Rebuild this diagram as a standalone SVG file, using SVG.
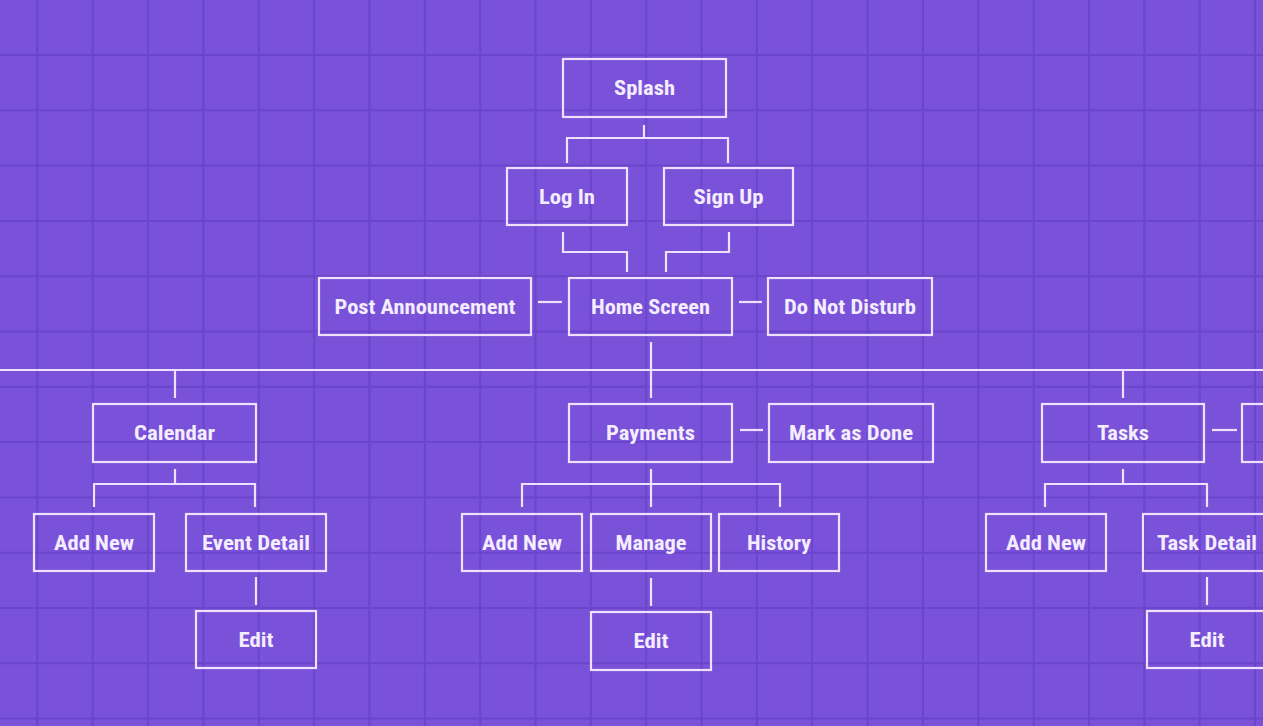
<svg xmlns="http://www.w3.org/2000/svg" width="1263" height="726" viewBox="0 0 1263 726">
<style>
.bg{fill:#7952d9}
.grid line{stroke:#6b45cb;stroke-width:2}
.node rect{fill:none;stroke:#eee0ff;stroke-width:2.2}
.node text{fill:#f4ecff;font-family:"Liberation Sans Narrow","Roboto Condensed",Roboto,"Liberation Sans",sans-serif;font-weight:bold;font-size:20.5px;text-anchor:middle}
.conn path{fill:none;stroke:#eee0ff;stroke-width:2.2}
</style>
<rect class="bg" x="0" y="0" width="1263" height="726"/>
<g class="grid">
<line x1="37.3" y1="0" x2="37.3" y2="726"/><line x1="92.7" y1="0" x2="92.7" y2="726"/><line x1="148" y1="0" x2="148" y2="726"/><line x1="203.4" y1="0" x2="203.4" y2="726"/><line x1="258.7" y1="0" x2="258.7" y2="726"/><line x1="314.1" y1="0" x2="314.1" y2="726"/><line x1="369.4" y1="0" x2="369.4" y2="726"/><line x1="424.8" y1="0" x2="424.8" y2="726"/><line x1="480.1" y1="0" x2="480.1" y2="726"/><line x1="535.5" y1="0" x2="535.5" y2="726"/><line x1="590.8" y1="0" x2="590.8" y2="726"/><line x1="646.2" y1="0" x2="646.2" y2="726"/><line x1="701.5" y1="0" x2="701.5" y2="726"/><line x1="756.9" y1="0" x2="756.9" y2="726"/><line x1="812.2" y1="0" x2="812.2" y2="726"/><line x1="867.6" y1="0" x2="867.6" y2="726"/><line x1="922.9" y1="0" x2="922.9" y2="726"/><line x1="978.3" y1="0" x2="978.3" y2="726"/><line x1="1033.6" y1="0" x2="1033.6" y2="726"/><line x1="1089" y1="0" x2="1089" y2="726"/><line x1="1144.3" y1="0" x2="1144.3" y2="726"/><line x1="1199.7" y1="0" x2="1199.7" y2="726"/><line x1="1255" y1="0" x2="1255" y2="726"/>
<line x1="0" y1="55" x2="1263" y2="55"/><line x1="0" y1="110.3" x2="1263" y2="110.3"/><line x1="0" y1="165.6" x2="1263" y2="165.6"/><line x1="0" y1="220.9" x2="1263" y2="220.9"/><line x1="0" y1="276.2" x2="1263" y2="276.2"/><line x1="0" y1="331.5" x2="1263" y2="331.5"/><line x1="0" y1="386.8" x2="1263" y2="386.8"/><line x1="0" y1="442.1" x2="1263" y2="442.1"/><line x1="0" y1="497.4" x2="1263" y2="497.4"/><line x1="0" y1="552.7" x2="1263" y2="552.7"/><line x1="0" y1="608" x2="1263" y2="608"/><line x1="0" y1="663.3" x2="1263" y2="663.3"/><line x1="0" y1="718.6" x2="1263" y2="718.6"/>
</g>
<g class="conn" id="connectors">
<path d="M644,125 V138"/><path d="M567,163 V138 H728 V163"/>
<path d="M563,232 V252 H627 V272"/>
<path d="M729,232 V252 H666 V272"/>
<path d="M538,302 H562"/><path d="M739,302 H762"/>
<path d="M651,342 V398"/><path d="M0,370 H1263"/>
<path d="M175,370 V398"/><path d="M1123,370 V398"/>
<path d="M175,469 V484"/><path d="M94,507 V484 H255 V507"/>
<path d="M651,469 V507"/><path d="M522,507 V484 H780 V507"/>
<path d="M1123,469 V484"/><path d="M1045,507 V484 H1207 V507"/>
<path d="M256,577 V605"/><path d="M651,578 V606"/><path d="M1207,577 V605"/>
<path d="M740,430 H763"/><path d="M1212,430 H1237"/>
</g>
<g class="node" id="splash"><rect x="563" y="59" width="163" height="58"/><text x="644.5" y="95" textLength="61" lengthAdjust="spacingAndGlyphs">Splash</text></g>
<g class="node" id="login"><rect x="507" y="168" width="120" height="57"/><text x="567" y="203.5" textLength="56" lengthAdjust="spacingAndGlyphs">Log In</text></g>
<g class="node" id="signup"><rect x="664" y="168" width="129" height="57"/><text x="728.5" y="203.5" textLength="70" lengthAdjust="spacingAndGlyphs">Sign Up</text></g>
<g class="node" id="post"><rect x="319" y="278" width="212" height="57"/><text x="425" y="313.5" textLength="181" lengthAdjust="spacingAndGlyphs">Post Announcement</text></g>
<g class="node" id="home"><rect x="569" y="278" width="163" height="57"/><text x="650.5" y="313.5" textLength="119" lengthAdjust="spacingAndGlyphs">Home Screen</text></g>
<g class="node" id="dnd"><rect x="768" y="278" width="164" height="57"/><text x="850" y="313.5" textLength="132" lengthAdjust="spacingAndGlyphs">Do Not Disturb</text></g>
<g class="node" id="calendar"><rect x="93" y="404" width="163" height="58"/><text x="174.5" y="440" textLength="81" lengthAdjust="spacingAndGlyphs">Calendar</text></g>
<g class="node" id="payments"><rect x="569" y="404" width="163" height="58"/><text x="650.5" y="440" textLength="89" lengthAdjust="spacingAndGlyphs">Payments</text></g>
<g class="node" id="markdone"><rect x="769" y="404" width="164" height="58"/><text x="851" y="440" textLength="124" lengthAdjust="spacingAndGlyphs">Mark as Done</text></g>
<g class="node" id="tasks"><rect x="1042" y="404" width="162" height="58"/><text x="1123" y="440" textLength="52" lengthAdjust="spacingAndGlyphs">Tasks</text></g>
<g class="node" id="tasks-side"><rect x="1242" y="404" width="100" height="58"/></g>
<g class="node" id="cal-addnew"><rect x="34" y="514" width="120" height="57"/><text x="94" y="549.5" textLength="80" lengthAdjust="spacingAndGlyphs">Add New</text></g>
<g class="node" id="eventdetail"><rect x="186" y="514" width="140" height="57"/><text x="256" y="549.5" textLength="108" lengthAdjust="spacingAndGlyphs">Event Detail</text></g>
<g class="node" id="cal-edit"><rect x="196" y="611" width="120" height="57"/><text x="256" y="646.5" textLength="35" lengthAdjust="spacingAndGlyphs">Edit</text></g>
<g class="node" id="pay-addnew"><rect x="462" y="514" width="120" height="57"/><text x="522" y="549.5" textLength="80" lengthAdjust="spacingAndGlyphs">Add New</text></g>
<g class="node" id="manage"><rect x="591" y="514" width="120" height="57"/><text x="651" y="549.5" textLength="71" lengthAdjust="spacingAndGlyphs">Manage</text></g>
<g class="node" id="history"><rect x="719" y="514" width="120" height="57"/><text x="779" y="549.5" textLength="64" lengthAdjust="spacingAndGlyphs">History</text></g>
<g class="node" id="pay-edit"><rect x="591" y="612" width="120" height="58"/><text x="651" y="648" textLength="35" lengthAdjust="spacingAndGlyphs">Edit</text></g>
<g class="node" id="task-addnew"><rect x="986" y="514" width="120" height="57"/><text x="1046" y="549.5" textLength="80" lengthAdjust="spacingAndGlyphs">Add New</text></g>
<g class="node" id="taskdetail"><rect x="1143" y="514" width="150" height="57"/><text x="1207" y="549.5" textLength="100" lengthAdjust="spacingAndGlyphs">Task Detail</text></g>
<g class="node" id="task-edit"><rect x="1147" y="611" width="120" height="57"/><text x="1207" y="646.5" textLength="35" lengthAdjust="spacingAndGlyphs">Edit</text></g>
</svg>
